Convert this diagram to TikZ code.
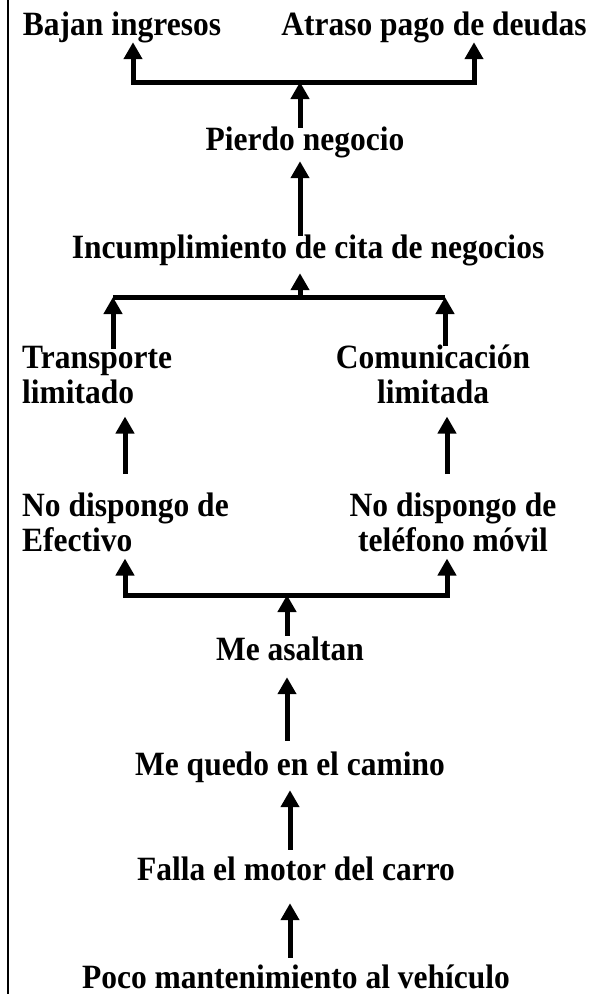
\documentclass[tikz,border=0pt]{standalone}
\usepackage{fontspec}
\usepackage{graphicx}
\setmainfont{Liberation Serif}
\usetikzlibrary{arrows.meta}
\newcommand{\tallt}[1]{\scalebox{1}[1.08]{#1}}
\begin{document}
\begin{tikzpicture}[x=1pt,y=-1pt,
  lbl/.style={inner sep=0pt, font=\fontsize{31.5}{35}\selectfont\bfseries, text height=22pt, text depth=7pt},
  mlbl/.style={inner sep=0pt, font=\fontsize{31.5}{35}\selectfont\bfseries},
  arr/.style={line width=5pt, -{Triangle[width=18pt,length=17pt]}},
  twoarr/.style={line width=5pt, {Triangle[width=18pt,length=17pt]}-{Triangle[width=18pt,length=17pt]}},
  barline/.style={line width=5pt}]
\useasboundingbox (0,0) rectangle (592,994);
\draw[line width=2pt] (8,0) -- (8,994);
% nodes
\node[lbl, anchor=base] (bajan) at (122,35) {\tallt{Bajan ingresos}};
\node[lbl, anchor=base] (atraso) at (434,35) {\tallt{Atraso pago de deudas}};
\node[lbl, anchor=base] (pierdo) at (305,150) {\tallt{Pierdo negocio}};
\node[lbl, anchor=base] (incump) at (308,258) {\tallt{Incumplimiento de cita de negocios}};
\node[mlbl, align=left, anchor=base west] (transp) at (22,403) {\tallt{Transporte}\\\tallt{limitado}};
\node[mlbl, align=center, anchor=base] (comun) at (433,403) {\tallt{Comunicación}\\\tallt{limitada}};
\node[mlbl, align=left, anchor=base west] (efect) at (22,551) {\tallt{No dispongo de}\\\tallt{Efectivo}};
\node[mlbl, align=center, anchor=base] (movil) at (453,551) {\tallt{No dispongo de}\\\tallt{teléfono móvil}};
\node[lbl, anchor=base] (asaltan) at (290,660) {\tallt{Me asaltan}};
\node[lbl, anchor=base] (quedo) at (290,775) {\tallt{Me quedo en el camino}};
\node[lbl, anchor=base] (falla) at (296,880) {\tallt{Falla el motor del carro}};
\node[lbl, anchor=base] (poco) at (296,988) {\tallt{Poco mantenimiento al vehículo}};
% bar coordinates
\coordinate (t1l) at (133,82); \coordinate (t1r) at (474,82); \coordinate (t1c) at (300,82);
\coordinate (t2l) at (113,297); \coordinate (t2r) at (445,297); \coordinate (t2c) at (300,297);
\coordinate (t3l) at (125,595); \coordinate (t3r) at (447,595); \coordinate (t3c) at (287,595);
% top level
\draw[twoarr] (bajan.south -| t1l) -- (t1l) -- (t1r) -- (atraso.south -| t1r);
\draw[arr] (pierdo.north -| t1c) -- (t1c);
\draw[arr, shorten >=4pt] (incump.north -| t1c) -- (pierdo.south -| t1c);
% second level
\draw[arr, shorten >=8pt] (t2c) -- (incump.south -| t2c);
\draw[barline] (t2l) -- (t2r);
\draw[arr, shorten <=-3pt] (transp.north -| t2l) -- (t2l);
\draw[arr, shorten <=-2pt] (comun.north -| t2r) -- (t2r);
% third level
\draw[arr, shorten <=18pt, shorten >=13pt] (efect.north -| t3l) -- (transp.south -| t3l);
\draw[arr, shorten <=18pt, shorten >=13pt] (movil.north -| t3r) -- (comun.south -| t3r);
\draw[twoarr, shorten <=7pt, shorten >=7pt] (efect.south -| t3l) -- (t3l) -- (t3r) -- (movil.south -| t3r);
\draw[arr, shorten <=2pt] (asaltan.north -| t3c) -- (t3c);
% bottom chain
\draw[arr, shorten <=12pt, shorten >=10pt] (quedo.north -| t3c) -- (asaltan.south -| t3c);
\draw[arr, shorten <=8pt, shorten >=8pt] (falla.north) ++(-6,0) coordinate (fn) (fn) -- (quedo.south -| fn);
\draw[arr, shorten <=8pt, shorten >=16pt] (poco.north -| fn) -- (falla.south -| fn);
\end{tikzpicture}
\end{document}
